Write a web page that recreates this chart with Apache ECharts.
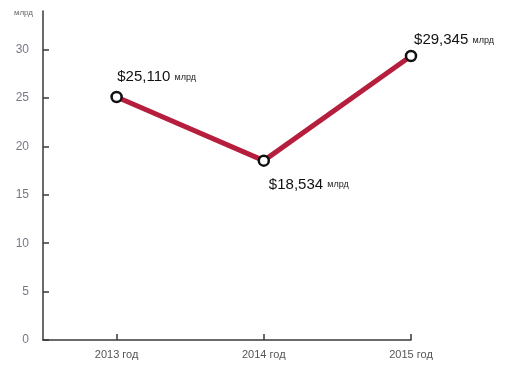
<!DOCTYPE html>
<html>
<head>
<meta charset="utf-8">
<script src="https://cdn.jsdelivr.net/npm/echarts@6/dist/echarts.min.js"></script>
<style>
  html, body { margin: 0; padding: 0; background: #fff; }
  #chart { width: 514px; height: 367px; }
</style>
</head>
<body>
<div id="chart"></div>
<script>
var years = ['2013 год', '2014 год', '2015 год'];
var values = [25.110, 18.534, 29.345];
var valueLabels = ['$25,110', '$18,534', '$29,345'];
var labelPlaces = ['top', 'bottom', 'top'];
var labelShifts = [[40, -1], [45, 5], [43, 3]];

// points sit in the middle of each year band, x axis ends on the last one
var points = [];
var tickPos = [];
for (var i = 0; i < values.length; i++) {
    tickPos.push(i + 0.5);
    points.push({
        value: [i + 0.5, values[i]],
        label: {
            position: labelPlaces[i],
            offset: labelShifts[i],
            formatter: valueLabels[i] + ' {u|млрд}'
        }
    });
}

var dom = document.getElementById('chart');
var myChart = echarts.init(dom);
var option = {
    animation: false,
    grid: { left: 43, right: 103, top: 11, bottom: 27 },
    xAxis: {
        type: 'value',
        min: 0,
        max: 2.5,
        splitLine: { show: false },
        axisLine: { lineStyle: { color: '#3a3a3a', width: 1.5 } },
        axisTick: { inside: true, length: 6, customValues: tickPos, lineStyle: { color: '#3a3a3a', width: 1.5 } },
        axisLabel: {
            customValues: tickPos,
            color: '#555',
            fontSize: 11,
            fontFamily: 'Liberation Sans',
            margin: 9,
            formatter: function (v) { return years[Math.round(v - 0.5)]; }
        }
    },
    yAxis: {
        type: 'value',
        min: 0,
        max: 34,
        interval: 5,
        name: 'млрд',
        nameLocation: 'end',
        nameGap: -6,
        nameTextStyle: { color: '#666', fontSize: 8, align: 'right', padding: [0, 10, 0, 0] },
        splitLine: { show: false },
        axisLine: { show: true, lineStyle: { color: '#3a3a3a', width: 1.5 } },
        axisTick: { show: true, inside: true, length: 6, lineStyle: { color: '#3a3a3a', width: 1.5 } },
        axisLabel: {
            color: '#778',
            fontSize: 12,
            fontFamily: 'Liberation Sans',
            margin: 14,
            showMaxLabel: false
        }
    },
    series: [{
        type: 'line',
        data: points,
        symbol: 'circle',
        symbolSize: 10,
        lineStyle: { color: '#b51e3c', width: 5 },
        itemStyle: { color: '#fff', borderColor: '#111', borderWidth: 2.5 },
        z: 3,
        label: {
            show: true,
            color: '#111',
            fontSize: 15,
            fontFamily: 'Liberation Sans',
            rich: {
                u: { fontSize: 9, color: '#222', fontFamily: 'Liberation Sans' }
            }
        }
    }]
};
myChart.setOption(option, true);
</script>
</body>
</html>
